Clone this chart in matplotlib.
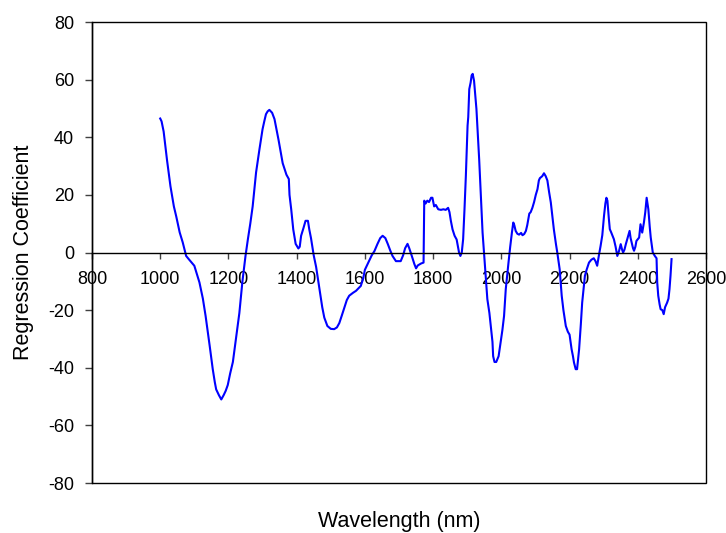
import matplotlib
matplotlib.use("Agg")
import matplotlib.pyplot as plt
from matplotlib.patches import Rectangle

wavelength = [1000, 1004, 1010, 1020, 1030, 1040, 1047, 1057, 1066, 1076, 1085, 1100, 1115, 1125, 1133, 1140,
              1145, 1150, 1154, 1160, 1164, 1172, 1179, 1186, 1192, 1198, 1205, 1213, 1222, 1232, 1241, 1250,
              1257, 1264, 1271, 1281, 1291, 1300, 1305, 1310, 1315, 1320, 1328, 1335, 1342, 1347, 1353, 1359,
              1370, 1377, 1379, 1384, 1390, 1397, 1405, 1409, 1413, 1420, 1426, 1433, 1437, 1442, 1450, 1457,
              1467, 1475, 1481, 1490, 1500, 1510, 1518, 1525, 1532, 1540, 1547, 1554, 1565, 1574, 1588, 1595,
              1600, 1610, 1620, 1628, 1637, 1645, 1652, 1660, 1667, 1675, 1681, 1691, 1705, 1712, 1718, 1725,
              1730, 1737, 1745, 1750, 1755, 1765, 1772, 1774, 1778, 1783, 1788, 1794, 1798, 1803, 1808, 1815,
              1823, 1830, 1837, 1844, 1848, 1852, 1857, 1863, 1869, 1873, 1876, 1880, 1884, 1888, 1892, 1896,
              1901, 1903, 1906, 1910, 1913, 1916, 1920, 1927, 1935, 1940, 1945, 1952, 1959, 1965, 1969, 1974,
              1976, 1980, 1985, 1992, 1998, 2003, 2008, 2013, 2017, 2021, 2026, 2031, 2035, 2038, 2042, 2047,
              2052, 2058, 2062, 2067, 2072, 2076, 2082, 2086, 2091, 2096, 2101, 2106, 2110, 2113, 2120, 2125,
              2130, 2135, 2140, 2145, 2150, 2154, 2160, 2164, 2171, 2177, 2182, 2189, 2195, 2200, 2206, 2210,
              2213, 2218, 2222, 2228, 2233, 2237, 2245, 2250, 2257, 2264, 2271, 2276, 2281, 2286, 2291, 2296,
              2301, 2305, 2308, 2311, 2315, 2318, 2322, 2330, 2335, 2340, 2345, 2350, 2354, 2357, 2361, 2365,
              2370, 2376, 2379, 2382, 2386, 2389, 2393, 2396, 2404, 2408, 2413, 2418, 2422, 2426, 2431, 2435,
              2438, 2444, 2450, 2455, 2457, 2460, 2464, 2467, 2472, 2476, 2480, 2486, 2490, 2493, 2496, 2499]

coefficient = [46.5, 45.5, 42, 32, 23, 16, 12.5, 7, 3.5, -1.2, -2.5, -4.6, -10.4, -16, -22, -28,
               -32.4, -37, -40.5, -45, -47.5, -49.5, -51, -49.5, -48, -46, -42, -38, -30, -21, -10, -1.2,
               4.6, 10, 16, 27.8, 35.9, 42.8, 45.5, 48, 49, 49.5, 48.5, 46.3, 42, 39, 35, 31,
               27, 25.5, 20, 15, 8, 3, 1.4, 2, 5.8, 8.5, 11, 11, 8, 5, -1, -5,
               -12.7, -19, -22.6, -25.5, -26.5, -26.6, -26, -24.5, -22, -19, -16.5, -15, -14, -13.3, -11.6, -9,
               -6, -3.5, -1, 0.5, 3, 5, 5.8, 5, 3, 0.5, -1.2, -3, -3, -1, 1.5, 3,
               1.5, -1, -4, -5.5, -4.5, -3.8, -3.5, 18, 17, 18, 17.5, 19, 19, 16, 16.5, 15,
               14.8, 15, 14.8, 15.5, 14, 11, 8, 5.8, 4.5, 2, 0, -1.2, 0, 4.6, 15, 26.6,
               44, 47, 56.7, 59, 61.5, 62, 59.6, 49.8, 32.4, 20, 6.9, -4.6, -16.2, -21, -25.5, -31,
               -36, -38, -38, -36, -31, -27, -22, -12.7, -8, -3.5, 2, 6.9, 10.4, 9.5, 7.5, 6.5,
               6.2, 6.8, 6, 6.4, 7.5, 9.5, 13.5, 14, 15.5, 17.5, 20, 22, 25, 25.8, 26.5, 27.5,
               26.5, 25, 21, 17.4, 12, 8, 3, 0, -5.8, -15, -20, -25.5, -27.5, -28.5, -33.6, -36,
               -38.2, -40.5, -40.5, -33.6, -25, -17.4, -8.1, -6, -3.5, -2.5, -2, -3, -4.6, -1, 2.3, 6,
               12.7, 17, 19, 18, 12, 8.1, 7, 4.6, 2, -1.2, 0.5, 2.9, 1, 0, 1, 2.9,
               5, 7.5, 5, 3.5, 1.5, 0.6, 2, 4, 5.2, 9.8, 6.9, 10.4, 14, 19, 15, 9,
               5.2, 0, -1.2, -2, -10.4, -15, -18, -19.7, -20, -21.4, -19, -17.4, -16, -12.7, -8, -2.3]

x_ticks = [800, 1000, 1200, 1400, 1600, 1800, 2000, 2200, 2400, 2600]
y_ticks = [-80, -60, -40, -20, 0, 20, 40, 60, 80]

plt.rcParams['font.family'] = ['Liberation Sans', 'DejaVu Sans']
plt.rcParams['axes.unicode_minus'] = False

fig = plt.figure(figsize=(7.26, 5.33), dpi=100)
ax = fig.add_axes([92 / 726, 1 - 483 / 533, (706 - 92) / 726, (483 - 22) / 533])

ax.plot(wavelength, coefficient, color='#0000ff', linewidth=1.5)

ax.set_xlim(800, 2600)
ax.set_ylim(-80, 80)
ax.set_xticks(x_ticks)
ax.set_yticks(y_ticks)

ax.spines['bottom'].set_position(('data', 0))
ax.spines['bottom'].set_linewidth(1.0)
for s in ['top', 'right']:
    ax.spines[s].set_visible(False)
ax.spines['left'].set_linewidth(1.0)
ax.add_patch(Rectangle((0, 0), 1, 1, transform=ax.transAxes, fill=False,
                       edgecolor='black', linewidth=1.0, zorder=3, clip_on=False))

ax.tick_params(axis='x', direction='out', length=4, width=1, color='#404040',
               labelsize=13, pad=9)
ax.tick_params(axis='y', direction='out', length=5, width=1, color='#404040',
               labelsize=13, pad=8)

ax.set_xlabel('Wavelength (nm)', fontsize=15.5)
ax.xaxis.set_label_coords(0.5, -0.061)
ax.set_ylabel('Regression Coefficient', fontsize=15.5)
ax.yaxis.set_label_coords(-0.094, 0.5)

fig.savefig('out.png', dpi=100)
